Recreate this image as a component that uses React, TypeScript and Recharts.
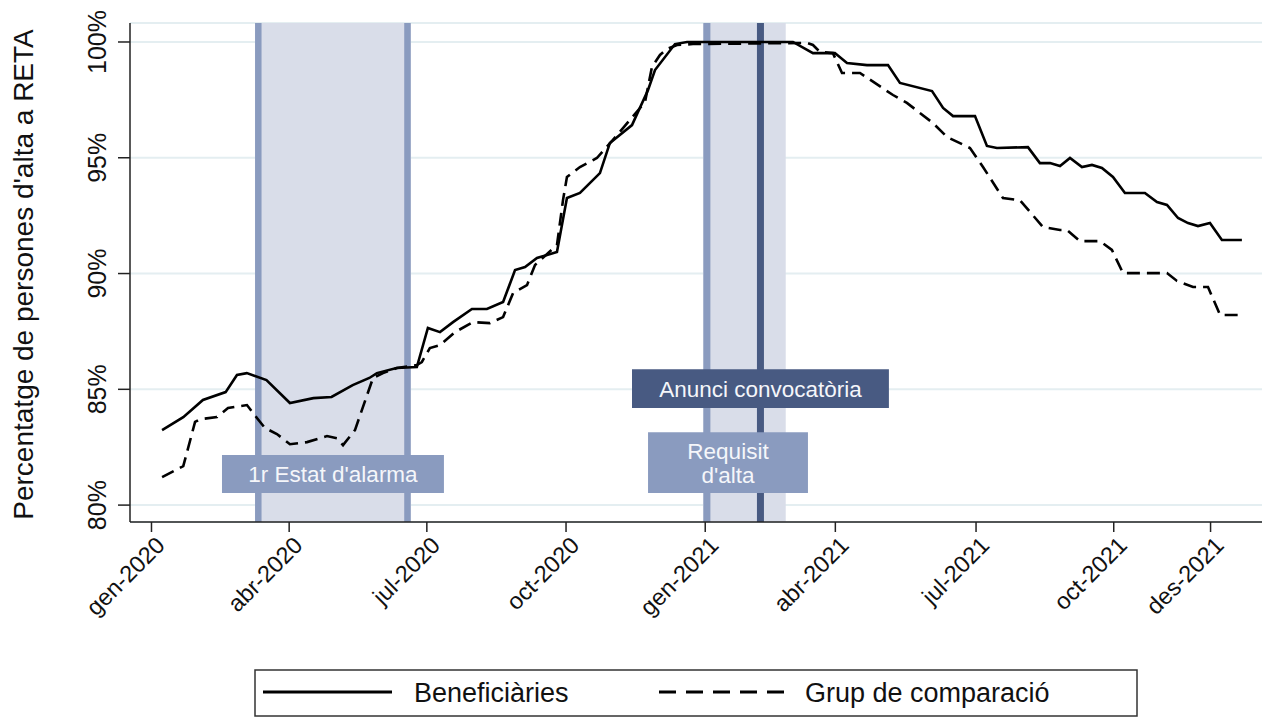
import React from "react";
import { LineChart, Line, XAxis, YAxis, CartesianGrid, ReferenceArea, ReferenceLine, Legend } from "recharts";

// x = days since 1 Jan 2020
const benefDays = [7, 21, 34, 49, 56.5, 63, 76, 91.5, 107, 119, 133, 144, 149, 162, 175.4, 182.7, 190.7, 199.3, 211.8, 221.7, 232.4, 240.3, 246.9, 254.8, 268, 274.6, 283.2, 296.4, 303, 317.6, 328.2, 332.8, 346, 354, 424, 437.2, 451.7, 459.7, 472.9, 486.8, 494.7, 515.9, 523.2, 529.8, 544.3, 552.2, 558.8, 579.3, 587.2, 593.9, 600.5, 607.1, 615, 621.6, 628.2, 635.5, 643.4, 656.6, 664.6, 671.2, 678.5, 685.1, 691.7, 699.6, 707.5, 720.7];
const benefPct = [83.24, 83.8, 84.54, 84.88, 85.62, 85.7, 85.4, 84.41, 84.62, 84.67, 85.18, 85.49, 85.7, 85.92, 85.96, 87.65, 87.47, 87.9, 88.47, 88.47, 88.77, 90.15, 90.28, 90.67, 90.93, 93.26, 93.48, 94.34, 95.64, 96.41, 97.93, 98.79, 99.91, 100, 100, 99.52, 99.52, 99.09, 99, 99, 98.23, 97.88, 97.15, 96.8, 96.8, 95.51, 95.42, 95.46, 94.77, 94.77, 94.64, 94.99, 94.6, 94.69, 94.56, 94.17, 93.48, 93.48, 93.09, 92.96, 92.4, 92.18, 92.05, 92.18, 91.45, 91.45];

const compDays = [7, 21, 28.8, 32.1, 43.3, 50.6, 63.1, 69.7, 75, 82.9, 91.5, 102.8, 116, 122.6, 126.6, 134.5, 146.4, 153, 162.2, 175.4, 178.7, 184, 190.7, 200.6, 212.5, 223.7, 232.4, 239, 248.2, 253.5, 268, 272, 274.6, 283.2, 294.4, 305, 322.9, 326.2, 330.8, 336.1, 340.7, 347.4, 357.9, 433.2, 437.2, 441.8, 450.4, 456.4, 468.3, 490.1, 499.3, 516.5, 525.8, 541, 549.6, 562.8, 574, 589.2, 600.5, 605.1, 613.7, 626.9, 634.8, 642.1, 671.2, 677.8, 688.4, 698.3, 706.3, 720.7];
const compPct = [81.21, 81.68, 83.59, 83.71, 83.8, 84.19, 84.32, 83.76, 83.33, 83.07, 82.63, 82.72, 82.98, 82.89, 82.59, 83.24, 85.49, 85.7, 85.92, 86.05, 86.18, 86.78, 86.91, 87.47, 87.9, 87.86, 88.12, 89.16, 89.5, 90.37, 91.23, 93.17, 94.17, 94.6, 94.99, 95.77, 97.15, 97.41, 98.92, 99.44, 99.7, 99.87, 99.91, 99.96, 99.87, 99.57, 99.52, 98.66, 98.66, 97.71, 97.37, 96.5, 95.9, 95.42, 94.6, 93.26, 93.17, 92.01, 91.88, 91.88, 91.4, 91.4, 91.02, 90.02, 90.02, 89.68, 89.42, 89.42, 88.21, 88.21];

const tickDays = [0, 91, 182, 274, 366, 452, 545, 636, 700];
const tickLabels = ["gen-2020", "abr-2020", "jul-2020", "oct-2020", "gen-2021", "abr-2021", "jul-2021", "oct-2021", "des-2021"];
const yTicks = [80, 85, 90, 95, 100];

const seriesNames = ["Beneficiàries", "Grup de comparació"];
const yTitle = "Percentatge de persones d'alta a RETA";

// event periods (days)
const alarmBand = [68.4, 171.5];
const alarmEdges = [70.6, 169.2];
const requisitBand = [364.5, 419.2];
const requisitDay = 367.1;
const anunciDay = 402.5;

const FONT = "'Liberation Sans', Arial, sans-serif";
const LIGHT = "#d9dde9";
const MID = "#8a9bbf";
const DARK = "#485a82";

const benefData = benefDays.map((d, i) => ({ day: d, pct: benefPct[i] }));
const compData = compDays.map((d, i) => ({ day: d, pct: compPct[i] }));

const XTick = ({ x, y, payload }: any) => {
  const i = tickDays.indexOf(payload.value);
  const ax = x + 3;
  return (
    <text x={ax} y={y} transform={`rotate(-45 ${ax} ${y})`} textAnchor="end" dy="0.71em" fontSize={23.5} fill="#111" fontFamily={FONT}>
      {tickLabels[i]}
    </text>
  );
};

const YTick = ({ x, y, payload }: any) => (
  <text x={x} y={y} transform={`rotate(-90 ${x} ${y})`} textAnchor="middle" fontSize={25} fill="#111" fontFamily={FONT}>
    {payload.value}%
  </text>
);

const YTitle = (props: any) => {
  const vb = props.viewBox;
  const x = vb.x + 33;
  const y = vb.y + vb.height / 2 + 2;
  return (
    <text x={x} y={y} transform={`rotate(-90 ${x} ${y})`} textAnchor="middle" fontSize={28} fill="#111" fontFamily={FONT}>
      {yTitle}
    </text>
  );
};

const boxLabel = (lines: string[]) => (props: any) => {
  const { x, y, width, height } = props.viewBox;
  const cx = x + width / 2;
  const cy = y + height / 2;
  return (
    <text textAnchor="middle" fill="#f5f6fa" fontSize={22.5} fontFamily={FONT}>
      {lines.map((l, i) => (
        <tspan key={i} x={cx} y={cy + (i - (lines.length - 1) / 2) * 24} dy="0.36em">{l}</tspan>
      ))}
    </text>
  );
};

const LegendBox = () => (
  <svg width={884} height={48} style={{ display: "block" }}>
    <rect x={1} y={1} width={882} height={46} fill="#fff" stroke="#333" strokeWidth={1.5} />
    <line x1={9} x2={138} y1={23} y2={23} stroke="#000" strokeWidth={3} />
    <text x={160} y={33} fontSize={27} fill="#111" fontFamily={FONT}>{seriesNames[0]}</text>
    <line x1={405} x2={532} y1={23} y2={23} stroke="#000" strokeWidth={3} strokeDasharray="17 10" />
    <text x={551} y={33} fontSize={27} fill="#111" fontFamily={FONT}>{seriesNames[1]}</text>
  </svg>
);

export default function App() {
  return (
    <div style={{ position: "absolute", left: 0, top: 0, width: 1268, height: 717, overflow: "hidden", background: "#fff" }}>
      <LineChart width={1268} height={717} margin={{ top: 23, right: 6, bottom: 75, left: 0 }}>
        <CartesianGrid vertical={false} stroke="#e4eef1" strokeWidth={2} />
        <XAxis
          dataKey="day"
          type="number"
          domain={[-14.2, 734]}
          allowDataOverflow
          ticks={tickDays}
          interval={0}
          tick={<XTick />}
          tickSize={10}
          tickMargin={3}
          height={120}
          axisLine={{ stroke: "#222", strokeWidth: 1.5 }}
          tickLine={{ stroke: "#222", strokeWidth: 1.5 }}
        />
        <YAxis
          type="number"
          domain={[79.27, 100.82]}
          allowDataOverflow
          ticks={yTicks}
          interval={0}
          tick={<YTick />}
          tickSize={12}
          tickMargin={12}
          width={130}
          axisLine={{ stroke: "#222", strokeWidth: 1.5 }}
          tickLine={{ stroke: "#222", strokeWidth: 1.5 }}
          label={<YTitle />}
        />
        <ReferenceArea x1={alarmBand[0]} x2={alarmBand[1]} fill={LIGHT} fillOpacity={1} stroke="none" zIndex={50} />
        <ReferenceArea x1={requisitBand[0]} x2={requisitBand[1]} fill={LIGHT} fillOpacity={1} stroke="none" zIndex={50} />
        <ReferenceLine x={alarmEdges[0]} stroke={MID} strokeWidth={6.5} zIndex={60} />
        <ReferenceLine x={alarmEdges[1]} stroke={MID} strokeWidth={6.5} zIndex={60} />
        <ReferenceLine x={requisitDay} stroke={MID} strokeWidth={7} zIndex={60} />
        <ReferenceLine x={anunciDay} stroke={DARK} strokeWidth={7} zIndex={60} />
        <ReferenceArea x1={46.6} x2={193.3} y1={80.52} y2={82.16} fill={MID} fillOpacity={1} stroke="none" zIndex={70} label={boxLabel(["1r Estat d'alarma"])} />
        <ReferenceArea x1={317.6} x2={487.4} y1={84.19} y2={85.87} fill={DARK} fillOpacity={1} stroke="none" zIndex={70} label={boxLabel(["Anunci convocatòria"])} />
        <ReferenceArea x1={328.2} x2={433.9} y1={80.52} y2={83.15} fill={MID} fillOpacity={1} stroke="none" zIndex={70} label={boxLabel(["Requisit", "d'alta"])} />
        <Line data={benefData} dataKey="pct" name={seriesNames[0]} type="linear" stroke="#000" strokeWidth={2.6} dot={false} isAnimationActive={false} />
        <Line data={compData} dataKey="pct" name={seriesNames[1]} type="linear" stroke="#000" strokeWidth={2.6} strokeDasharray="13 7" dot={false} isAnimationActive={false} />
        <Legend
          verticalAlign="middle"
          layout="horizontal"
          align="center"
          content={<LegendBox />}
          wrapperStyle={{ position: "absolute", left: 254, top: 669, width: 884, height: 48 }}
        />
      </LineChart>
    </div>
  );
}
